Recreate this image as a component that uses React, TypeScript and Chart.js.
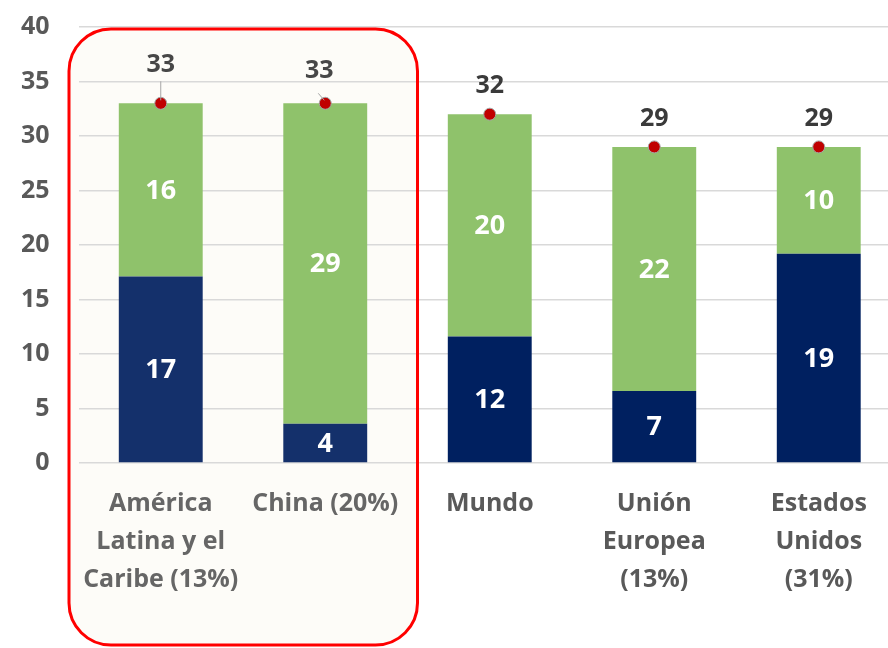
import React, { useEffect, useRef } from "react";
import { Chart, registerables } from "chart.js";

Chart.register(...registerables);

const categories: string[][] = [
  ["América", "Latina y el", "Caribe (13%)"],
  ["China (20%)"],
  ["Mundo"],
  ["Unión", "Europea", "(13%)"],
  ["Estados", "Unidos", "(31%)"],
];
const baseValues = [17.1, 3.6, 11.6, 6.6, 19.2];
const topValues = [15.9, 29.4, 20.4, 22.4, 9.8];
const totals = [33, 33, 32, 29, 29];
const baseLabels = ["17", "4", "12", "7", "19"];
const topLabels = ["16", "29", "20", "22", "10"];
const totalLabels = ["33", "33", "32", "29", "29"];
const yTicks = [0, 5, 10, 15, 20, 25, 30, 35, 40];

const FONT = "'Open Sans', Lato, sans-serif";

export default function App() {
  const ref = useRef<HTMLCanvasElement | null>(null);

  useEffect(() => {
    if (!ref.current) return;

    const boxPath = (ctx: any, b: any) => {
      const { left, right, top, bottom, r } = b;
      ctx.beginPath();
      ctx.moveTo(left + r, top);
      ctx.lineTo(right - r, top);
      ctx.arcTo(right, top, right, top + r, r);
      ctx.lineTo(right, bottom - r);
      ctx.arcTo(right, bottom, right - r, bottom, r);
      ctx.lineTo(left + r, bottom);
      ctx.arcTo(left, bottom, left, bottom - r, r);
      ctx.lineTo(left, top + r);
      ctx.arcTo(left, top, left + r, top, r);
      ctx.closePath();
    };

    const highlightPlugin = {
      id: "highlight",
      beforeDraw(chart: any) {
        const { ctx } = chart;
        const x = chart.scales.x;
        const y = chart.scales.y;
        const half = (x.getPixelForValue(1) - x.getPixelForValue(0)) / 2;
        const b = {
          left: x.getPixelForValue(0) - half - 9.5,
          right: x.getPixelForValue(1) + half + 10,
          top: y.getPixelForValue(40) + 2,
          bottom: chart.height - 3,
          r: 42,
        };
        ctx.save();
        boxPath(ctx, b);
        ctx.fillStyle = "#fdfcf8";
        ctx.fill();
        ctx.restore();
        chart.$box = b;
      },
      afterDraw(chart: any) {
        const b = chart.$box;
        if (!b) return;
        const { ctx } = chart;
        ctx.save();
        boxPath(ctx, b);
        ctx.strokeStyle = "#ff0000";
        ctx.lineWidth = 3;
        ctx.stroke();
        ctx.restore();
      },
    };

    const labelPlugin = {
      id: "labels",
      afterDatasetsDraw(chart: any) {
        const { ctx } = chart;
        ctx.save();
        ctx.textAlign = "center";
        ctx.textBaseline = "middle";
        [0, 1].forEach((di) => {
          const meta = chart.getDatasetMeta(di);
          const labels = di === 0 ? baseLabels : topLabels;
          meta.data.forEach((bar: any, i: number) => {
            const cy = (bar.y + bar.base) / 2;
            ctx.fillStyle = "#ffffff";
            ctx.font = `bold 27px ${FONT}`;
            ctx.fillText(labels[i], bar.x, cy + 1);
          });
        });
        const offsets = [
          { dx: 0, dy: -38, lead: "v" },
          { dx: -6, dy: -32, lead: "d" },
          { dx: 0, dy: -28, lead: "" },
          { dx: 0, dy: -28, lead: "" },
          { dx: 0, dy: -28, lead: "" },
        ];
        const meta = chart.getDatasetMeta(2);
        meta.data.forEach((pt: any, i: number) => {
          const o = offsets[i];
          const lx = pt.x + o.dx;
          const ly = pt.y + o.dy;
          ctx.strokeStyle = "#a6a6a6";
          ctx.lineWidth = 1;
          if (o.lead === "v") {
            ctx.beginPath();
            ctx.moveTo(pt.x, ly + 16);
            ctx.lineTo(pt.x, pt.y - 3);
            ctx.stroke();
          } else if (o.lead === "d") {
            ctx.beginPath();
            ctx.moveTo(pt.x - 7, pt.y - 10);
            ctx.lineTo(pt.x - 1, pt.y - 3);
            ctx.stroke();
          }
          ctx.fillStyle = i < 2 ? "#474747" : "#3a3a3a";
          ctx.font = `bold 25px ${FONT}`;
          ctx.fillText(totalLabels[i], lx, ly);
        });
        ctx.restore();
      },
    };

    const chart = new Chart(ref.current, {
      type: "bar",
      data: {
        labels: categories,
        datasets: [
          {
            label: "base",
            data: baseValues,
            backgroundColor: ["#14306b", "#14306b", "#002060", "#002060", "#002060"],
            stack: "s",
            categoryPercentage: 0.51,
            barPercentage: 1,
            order: 2,
          },
          {
            label: "top",
            data: topValues,
            backgroundColor: "#8fc26b",
            stack: "s",
            categoryPercentage: 0.51,
            barPercentage: 1,
            order: 2,
          },
          {
            type: "line",
            label: "total",
            data: totals,
            stack: "t",
            showLine: false,
            pointRadius: 6,
            pointBackgroundColor: "#c00000",
            pointBorderColor: "#a6a6a6",
            pointBorderWidth: 1,
            order: 1,
          } as any,
        ],
      },
      options: {
        responsive: false,
        animation: false,
        devicePixelRatio: 1,
        layout: { padding: { top: 27, right: 3, left: 0, bottom: 0 } },
        plugins: {
          legend: { display: false },
          tooltip: { enabled: false },
        },
        scales: {
          x: {
            stacked: true,
            grid: { display: false, drawTicks: false },
            border: { display: false },
            ticks: {
              padding: 22,
              maxRotation: 0,
              autoSkip: false,
              color: (c: any) => (c.index < 2 ? "#666666" : "#595959"),
              font: { family: FONT, size: 25, weight: "bold", lineHeight: 1.52 },
            },
            afterFit: (s: any) => {
              s.height = 185;
            },
          },
          y: {
            stacked: true,
            min: 0,
            max: 40,
            afterBuildTicks: (s: any) => {
              s.ticks = yTicks.map((v) => ({ value: v }));
            },
            grid: {
              color: "#d9d9d9",
              lineWidth: 1.5,
              drawTicks: true,
              tickLength: 29,
              tickColor: "rgba(0,0,0,0)",
            },
            border: { display: false },
            ticks: {
              padding: 0,
              color: "#595959",
              font: { family: FONT, size: 25, weight: "bold" },
            },
            afterFit: (s: any) => {
              s.width = 78.5;
            },
          },
        },
      },
      plugins: [highlightPlugin, labelPlugin],
    });
    return () => chart.destroy();
  }, []);

  return (
    <div
      style={{
        position: "fixed",
        left: 0,
        top: 0,
        width: 888,
        height: 648,
        overflow: "hidden",
        background: "#ffffff",
      }}
    >
      <canvas ref={ref} width={908} height={648} style={{ width: 908, height: 648, display: "block" }} />
    </div>
  );
}
